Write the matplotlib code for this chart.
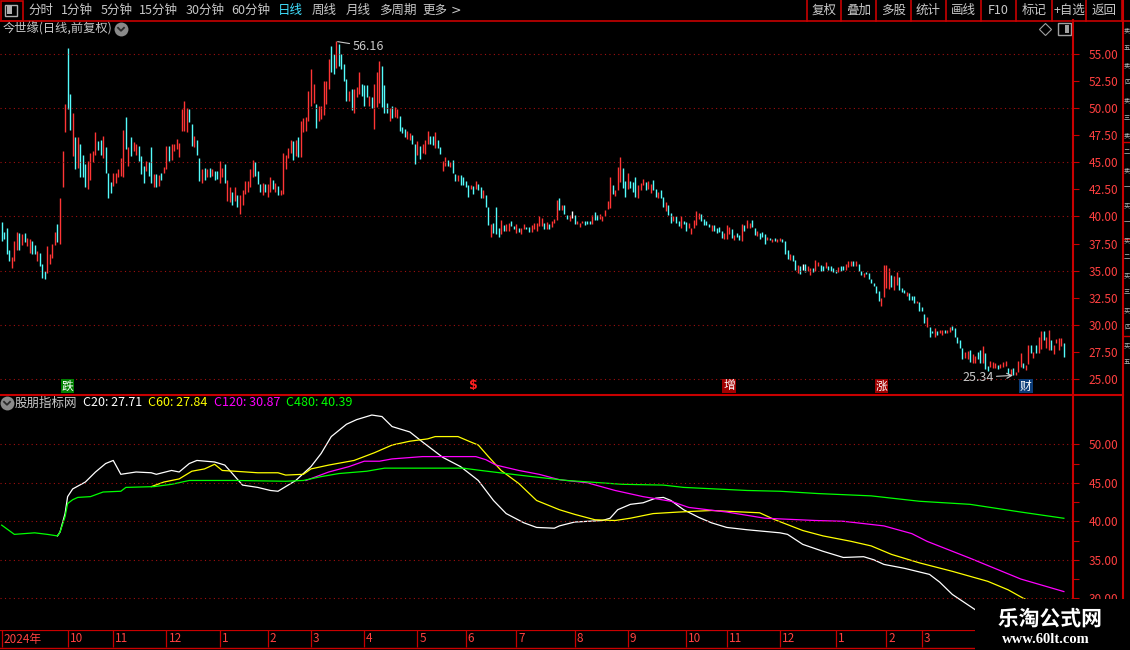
import numpy as np
import matplotlib
matplotlib.use("Agg")
import matplotlib.pyplot as plt
from matplotlib.patches import Rectangle
import matplotlib.patheffects as pe

plt.rcParams['font.family'] = ['Noto Sans CJK SC', 'DejaVu Sans']

# ---------------- 数据 ----------------
# 日线 最高 / 最低 (每根K线)
highs = [
    39.5, 38.6, 38.9, 36.9, 36.3, 37.7, 38.6, 38.5, 38.4, 38.5,
    38.0, 37.9, 37.7, 37.4, 36.8, 36.6, 35.6, 35.0, 37.3, 36.5,
    37.5, 38.6, 39.3, 41.7, 46.0, 50.4, 55.6, 51.3, 49.6, 47.3,
    47.3, 46.7, 45.7, 44.8, 45.1, 45.9, 46.0, 47.8, 47.0, 47.1,
    47.4, 46.4, 44.0, 43.2, 44.0, 44.0, 44.4, 45.4, 48.0, 49.2,
    46.4, 47.3, 46.9, 46.7, 46.5, 45.6, 44.7, 45.1, 45.0, 46.4,
    43.9, 43.9, 43.8, 44.0, 44.6, 46.5, 46.5, 46.7, 46.7, 47.2,
    46.8, 49.9, 50.7, 50.0, 49.9, 48.5, 47.4, 47.1, 45.4, 44.4,
    44.5, 44.4, 44.5, 44.4, 44.2, 44.2, 45.1, 44.5, 44.8, 43.4,
    42.7, 42.3, 42.7, 42.0, 42.0, 42.4, 43.3, 43.3, 44.4, 45.2,
    45.0, 44.2, 43.0, 43.1, 43.0, 43.0, 43.6, 43.4, 43.1, 42.8,
    42.4, 45.9, 45.7, 46.3, 47.1, 47.0, 47.1, 47.3, 48.8, 49.1,
    49.2, 51.6, 53.6, 52.2, 50.4, 50.2, 50.2, 52.5, 52.5, 54.5,
    55.7, 55.0, 56.16, 55.9, 55.0, 54.1, 52.7, 51.6, 51.8, 51.8,
    52.0, 53.3, 52.2, 52.1, 52.1, 51.1, 51.0, 52.2, 53.3, 54.4,
    53.9, 52.1, 50.5, 50.0, 50.2, 50.1, 49.9, 49.3,
    48.3, 48.1, 47.9, 47.7, 47.5, 46.7, 47.0, 46.5, 46.7, 47.1,
    47.9, 47.4, 47.4, 47.8, 47.1, 46.4, 45.1, 45.5, 45.2, 45.0,
    45.2, 43.9, 43.8, 43.8, 43.6, 43.3, 42.9, 42.9, 42.8, 43.3,
    43.0, 42.7, 42.4, 42.0, 40.9, 39.3, 39.4, 40.9, 38.9, 39.7,
    39.2, 39.3, 39.4, 39.6, 39.1, 39.3, 38.9, 38.9, 39.3, 39.0,
    39.0, 39.2, 39.4, 39.4, 40.0, 39.9, 39.4, 39.5, 39.3, 39.6,
    39.8, 41.5, 41.7, 41.1, 41.1, 40.1, 40.1, 40.5, 40.1, 39.6,
    39.4, 39.6, 39.6, 39.6, 39.6, 40.1, 40.4, 40.1, 40.2, 40.0,
    40.6, 41.4, 43.6, 42.9, 42.4, 44.6, 45.5, 44.5, 43.3, 44.0,
    43.3, 43.2, 43.6, 42.9, 43.1, 43.5, 43.2, 43.3, 43.0, 43.4,
    42.5, 42.3, 42.4, 41.8, 41.3, 41.1, 40.3, 40.0, 40.0, 39.6,
    40.0, 39.6, 39.5, 39.4, 38.9, 39.7, 40.5, 40.3, 40.2, 39.8,
    39.6, 39.3, 39.2, 39.2, 38.9, 39.0, 38.7, 38.5, 39.2, 39.0,
    38.8, 38.3, 38.5, 38.3,
    39.3, 39.2, 39.7, 39.4, 39.7, 38.9, 38.7, 38.5, 38.6, 38.4,
    38.1, 38.0, 37.9, 38.0, 37.9, 38.0, 37.9, 37.7, 36.9, 36.5,
    36.4, 36.0, 35.5, 35.4, 35.6, 35.6, 35.4, 35.2, 35.2, 36.0,
    35.8, 35.5, 35.4, 35.8, 35.4, 35.4, 35.2, 35.1, 35.3, 35.4,
    35.4, 35.6, 35.9, 35.9, 35.9, 35.9, 35.6, 35.0, 34.8, 34.9,
    34.8, 34.2, 33.9, 33.6, 33.1, 32.5, 35.5, 35.5, 35.2, 34.6,
    34.5, 34.9, 34.4, 33.4, 33.2, 33.0, 32.9, 32.7, 32.7, 32.2,
    32.1, 31.6, 31.0, 30.7, 29.8, 29.4, 29.7, 29.4, 29.5, 29.5,
    29.5, 29.5, 29.8, 29.9, 29.7, 28.9, 28.6, 27.9, 27.5, 27.6,
    27.7, 27.3, 27.1, 27.5, 27.7, 28.0, 27.4, 26.2, 26.7, 26.6,
    26.5, 26.3, 26.4, 26.6, 26.7, 26.0, 25.9, 26.0, 25.6, 26.7,
    27.4, 26.5, 26.3, 28.1, 28.1, 27.5, 28.1, 28.9, 29.4, 29.4,
    28.9, 29.5, 28.6, 28.1, 28.7, 28.8, 28.8, 28.3,
]
lows = [
    37.7, 37.9, 36.5, 35.9, 35.2, 35.9, 36.9, 36.9, 37.4, 37.6,
    37.3, 36.6, 36.5, 36.5, 35.9, 35.4, 34.3, 34.2, 34.8, 35.6,
    36.2, 37.4, 37.6, 37.5, 42.7, 47.8, 49.9, 48.0, 45.6, 44.4,
    44.5, 43.6, 43.6, 42.7, 42.5, 43.4, 45.0, 45.7, 46.1, 45.7,
    45.4, 44.0, 41.7, 42.2, 42.8, 43.1, 43.6, 43.7, 43.6, 46.2,
    44.7, 45.6, 46.0, 45.7, 45.1, 43.9, 43.1, 44.2, 43.7, 43.1,
    42.7, 42.7, 42.8, 43.4, 44.0, 44.4, 45.1, 45.2, 46.0, 46.2,
    45.5, 47.9, 47.9, 47.8, 48.7, 46.5, 46.4, 45.7, 43.3, 43.1,
    43.4, 43.6, 43.6, 43.7, 43.4, 43.5, 43.1, 43.6, 43.1, 41.4,
    41.3, 41.1, 41.4, 40.9, 40.2, 41.1, 42.1, 42.3, 42.7, 43.6,
    43.7, 43.0, 42.3, 42.0, 42.3, 41.8, 42.3, 42.5, 42.3, 42.0,
    42.0, 42.1, 44.4, 45.4, 45.9, 45.2, 45.6, 45.5, 45.5, 47.8,
    47.9, 48.8, 50.2, 50.5, 48.2, 48.8, 49.0, 49.4, 50.4, 51.8,
    53.3, 53.2, 53.7, 53.9, 53.6, 52.5, 50.7, 50.7, 49.8, 49.6,
    51.0, 51.3, 51.1, 50.2, 51.0, 50.2, 50.0, 48.1, 50.1, 50.5,
    50.1, 49.6, 49.6, 48.8, 49.1, 49.2, 49.1, 47.9,
    47.7, 47.3, 47.2, 47.1, 46.7, 44.8, 45.7, 45.3, 45.9, 45.8,
    46.7, 46.7, 46.6, 46.3, 46.3, 45.8, 44.2, 44.7, 44.7, 44.6,
    44.0, 43.3, 43.3, 42.9, 42.9, 42.7, 41.8, 42.5, 42.1, 42.5,
    42.4, 41.7, 41.7, 40.9, 39.2, 38.1, 38.5, 38.4, 38.1, 38.4,
    38.7, 38.7, 38.7, 39.1, 38.8, 38.5, 38.6, 38.4, 38.8, 38.8,
    38.6, 38.6, 38.8, 38.7, 39.1, 39.1, 38.8, 38.8, 38.8, 39.0,
    39.4, 39.7, 40.6, 40.6, 40.2, 39.8, 39.6, 39.9, 39.3, 39.3,
    39.0, 39.4, 39.2, 39.3, 39.3, 39.3, 39.7, 39.7, 39.8, 39.6,
    40.0, 40.7, 40.8, 42.1, 41.9, 42.4, 43.2, 42.6, 41.8, 42.5,
    42.6, 42.3, 41.8, 41.7, 42.4, 42.9, 42.4, 42.5, 42.2, 42.4,
    41.8, 41.7, 41.7, 40.9, 40.5, 40.1, 39.4, 39.6, 39.4, 39.1,
    38.9, 39.3, 38.7, 38.9, 38.4, 38.9, 39.2, 39.8, 39.6, 39.2,
    39.2, 39.0, 38.7, 38.7, 38.5, 38.6, 38.0, 37.9, 37.9, 38.4,
    38.0, 37.8, 38.1, 37.8,
    37.7, 38.7, 38.9, 38.9, 39.0, 38.3, 38.2, 37.9, 38.1, 37.5,
    37.8, 37.8, 37.6, 37.7, 37.6, 37.7, 37.6, 36.5, 36.1, 36.0,
    35.9, 35.1, 34.8, 34.7, 35.1, 34.9, 35.0, 34.6, 34.9, 35.0,
    35.4, 35.0, 35.0, 35.2, 35.1, 35.0, 34.9, 34.8, 34.9, 35.0,
    35.1, 35.1, 35.3, 35.4, 35.4, 35.4, 35.0, 34.6, 34.4, 34.7,
    34.2, 33.9, 33.6, 32.9, 32.2, 31.7, 32.6, 33.4, 33.3, 33.5,
    33.2, 33.7, 33.2, 33.0, 32.9, 32.7, 32.3, 32.3, 32.0, 32.0,
    31.3, 31.3, 30.2, 29.8, 28.9, 29.2, 28.9, 29.1, 29.2, 29.1,
    29.2, 29.2, 29.3, 29.5, 28.9, 28.3, 27.9, 26.8, 26.9, 26.8,
    26.6, 26.5, 26.5, 26.8, 26.5, 26.5, 25.9, 25.7, 26.1, 26.0,
    26.0, 25.9, 26.0, 26.1, 26.2, 25.5, 25.4, 25.4, 25.34, 25.6,
    26.1, 26.0, 25.8, 26.4, 27.4, 26.9, 27.4, 27.4, 27.8, 28.6,
    27.9, 27.7, 27.7, 27.3, 28.3, 27.7, 28.0, 27.0,
]
# r=阳线 c=阴线 w=十字
bar_colors = (
    "ccccrrrcrc" "rrccrcccrr" "rrcrrrccrc" "rcccrrrrcc" "rcccrrrrrc"
    "rcrrcccrcc" "rcrcrrcrrr" "rrrrccrccr" "crcrccrrcr" "rcrcrrrrrr"
    "cccrcrrcrc" "rrrrrcrcrr" "rrrrcrrrrr" "ccrccccrcr" "rrcccrcrrr"
    "cccrcrrc"
    "ccrrccrcrr" "rccrccrrcr" "ccrccccrcr" "ccrccrcccr" "crrccrcrrc"
    "crrrrrcrcr" "rrcrccrwcr" "rrcccrccrr" "rrrcrrrccr" "cccrrrcrrc"
    "crccrccrcc" "rccrrrrrcc" "ccrccccrrr" "crcc"
    "rcrrccrccc" "rcrcrrcccr" "ccrcwcrrcr" "rccrccccrc" "crrrcrccrc"
    "cccccrrrrc" "rrcccrcccr" "cccrccrcrr" "crrcccccrr" "crrccrccrr"
    "rcrrrcrcrr" "rcrrcrcrrc" "rrcrrrrc"
)

# 副图指标 (K线序号, 数值)
c20_idx = [22, 23, 25, 26, 28, 33, 37, 41, 44, 45, 47, 53, 59, 61, 67, 70, 74, 77, 84, 88,
           91, 95, 101, 106, 109, 112, 116, 122, 126, 130, 136, 140, 146, 150, 154, 161, 166, 174, 181, 188,
           194, 199, 206, 211, 218, 220, 226, 237, 240, 243, 248, 253, 258, 261, 264, 269, 275, 280, 286, 294,
           307, 310, 316, 324, 332, 340, 344, 348, 356, 366, 370, 375, 385, 395, 405, 412, 419]
c20_val = [38.1, 38.6, 41.0, 43.2, 44.2, 45.1, 46.4, 47.5, 47.9, 47.3, 46.1, 46.4, 46.3, 46.1, 46.6, 46.4, 47.5, 47.9, 47.7, 47.3,
           46.2, 44.7, 44.4, 44.0, 43.9, 44.5, 45.3, 47.1, 48.8, 51.0, 52.6, 53.2, 53.8, 53.6, 52.3, 51.6, 50.3, 48.3, 47.1, 45.3,
           42.7, 41.0, 39.8, 39.2, 39.1, 39.4, 39.9, 40.1, 40.4, 41.5, 42.2, 42.4, 43.0, 43.1, 42.7, 41.5, 40.5, 39.8, 39.2, 38.9,
           38.5, 38.3, 37.0, 36.1, 35.3, 35.4, 35.0, 34.4, 33.9, 33.1, 32.1, 30.5, 28.3, 26.9, 26.6, 27.2, 27.71]

c60_idx = [59, 64, 70, 75, 80, 84, 87, 92, 101, 109, 112, 119, 122, 129, 139, 147, 154, 161, 168, 171,
           180, 185, 188, 192, 197, 204, 211, 220, 226, 234, 242, 248, 257, 267, 280, 299, 305, 316, 324, 335,
           343, 351, 362, 375, 389, 397, 403, 411, 419]
c60_val = [44.5, 45.1, 45.5, 46.5, 46.8, 47.4, 46.6, 46.5, 46.3, 46.3, 46.0, 46.1, 46.8, 47.3, 47.9, 48.9, 49.9, 50.4, 50.7, 51.0,
           51.0, 50.3, 49.9, 48.4, 46.6, 44.9, 42.7, 41.5, 40.9, 40.2, 40.1, 40.4, 41.0, 41.2, 41.4, 41.1, 40.2, 38.8, 38.1, 37.4,
           36.8, 35.7, 34.6, 33.5, 32.2, 31.1, 30.0, 28.8, 27.84]

c120_idx = [120, 129, 137, 143, 149, 154, 166, 187, 191, 195, 204, 212, 220, 231, 242, 253, 264, 271, 286, 301,
            321, 332, 348, 359, 365, 382, 402, 419]
c120_val = [45.3, 46.4, 47.1, 47.8, 47.8, 48.1, 48.4, 48.4, 48.0, 47.3, 46.6, 46.1, 45.4, 45.0, 44.0, 43.2, 42.6, 41.8, 41.2, 40.4,
            40.1, 40.0, 39.4, 38.4, 37.4, 35.2, 32.5, 30.87]

c480_idx = [0, 5, 13, 18, 22, 23, 25, 26, 28, 30, 35, 40, 47, 49, 60, 67, 74, 92, 112, 119,
            126, 133, 144, 151, 182, 189, 204, 212, 223, 245, 261, 269, 294, 307, 322, 343, 362, 382, 402, 419]
c480_val = [39.5, 38.3, 38.5, 38.3, 38.1, 38.6, 40.6, 42.3, 42.8, 43.1, 43.2, 43.8, 43.9, 44.4, 44.5, 44.8, 45.3, 45.3, 45.2, 45.3,
            45.8, 46.2, 46.5, 46.9, 46.9, 46.6, 46.0, 45.7, 45.3, 44.8, 44.7, 44.4, 44.0, 43.9, 43.6, 43.3, 42.6, 42.2, 41.2, 40.39]

# 月份刻度 (K线序号)
month_idx = [0, 26, 44, 65, 86, 105, 122, 143, 164, 183, 203, 226, 247, 270, 286, 307, 329, 349, 363]
month_labels = ["2024年", "10", "11", "12", "1", "2", "3", "4", "5", "6", "7", "8", "9",
                "10", "11", "12", "1", "2", "3"]

# 信号标记
sig_idx = [26, 186, 287, 347, 404]
sig_text = ["跌", "$", "增", "涨", "财"]
sig_bg = ["#007f00", None, "#a00000", "#a00000", "#0b3c78"]

# ---------------- 画图 ----------------
W, H = 1130, 650
RED = "#c80000"
LBL = "#ff4040"
GREY = "#c8c8c8"


def fr(x0, y0, x1, y1):
    return [x0 / W, 1 - y1 / H, (x1 - x0) / W, (y1 - y0) / H]


fig = plt.figure(figsize=(W / 100, H / 100), dpi=100, facecolor="black")

ax = fig.add_axes(fr(0, 20, 1073, 395))
ax2 = fig.add_axes(fr(0, 395, 1073, 630), sharex=ax)
axd = fig.add_axes(fr(0, 630, 1073, 648), sharex=ax)

for a in (ax, ax2, axd):
    a.set_facecolor("black")
    for s in a.spines.values():
        s.set_visible(False)

n = min(len(highs), len(lows), len(bar_colors))
idx = np.arange(n)
cmap = {"r": "#ff3535", "c": "#54fcfc", "w": "#ffffff"}
cols = [cmap[ch] for ch in bar_colors[:n]]
ax.vlines(idx, lows[:n], highs[:n], colors=cols, linewidth=1.0)

ax.set_xlim(-0.67, 422.6)
ax.set_ylim(23.52, 58.14)
for v in range(25, 60, 5):
    ax.axhline(v, color="#a01010", lw=0.8, ls=(0, (1, 3)))
ax.yaxis.tick_right()
ax.set_yticks(np.arange(25, 55.1, 2.5))
ax.set_yticklabels(["%.2f" % v for v in np.arange(25, 55.1, 2.5)])
ax.tick_params(axis="y", colors=RED, labelcolor=LBL, length=4, width=0.8, pad=7, labelsize=8.5)
ax.tick_params(axis="x", bottom=False, labelbottom=False)

# 最高 / 最低 标注
imax = int(np.argmax(highs[:n]))
imin = int(np.argmin(lows[:n]))
ax.annotate("%.2f" % highs[imax], xy=(imax, highs[imax]), xytext=(16, -5), textcoords="offset pixels",
            color=GREY, fontsize=9, ha="left", va="center",
            arrowprops=dict(arrowstyle="-", color=GREY, lw=0.8, shrinkA=0, shrinkB=1))
ax.annotate("%.2f" % lows[imin], xy=(imin, lows[imin]), xytext=(-22, -2), textcoords="offset pixels",
            color=GREY, fontsize=9, ha="right", va="center",
            arrowprops=dict(arrowstyle="->", color=GREY, lw=0.8, shrinkA=0, shrinkB=2))

# 信号
for i, t, bg in zip(sig_idx, sig_text, sig_bg):
    if bg is None:
        ax.text(i, 0.024, t, transform=ax.get_xaxis_transform(), ha="center", va="center",
                color="#ff2020", fontsize=9, fontweight="bold", family=["DejaVu Sans"])
    else:
        ax.text(i, 0.024, t, transform=ax.get_xaxis_transform(), ha="center", va="center",
                color="white", fontsize=8.5,
                bbox=dict(boxstyle="square,pad=0.08", fc=bg, ec="none"))

# 副图
ax2.plot(c20_idx, c20_val, color="#ffffff", lw=0.9)
ax2.plot(c60_idx, c60_val, color="#ffff00", lw=0.9)
ax2.plot(c120_idx, c120_val, color="#ff00ff", lw=0.9)
ax2.plot(c480_idx, c480_val, color="#00ff00", lw=0.9)
ax2.set_ylim(25.88, 56.4)
for v in range(30, 55, 5):
    ax2.axhline(v, color="#a01010", lw=0.8, ls=(0, (1, 3)))
ax2.yaxis.tick_right()
ax2.set_yticks([30, 35, 40, 45, 50])
ax2.set_yticklabels(["%.2f" % v for v in [30, 35, 40, 45, 50]])
ax2.set_yticks([32.5, 37.5, 42.5, 47.5], minor=True)
ax2.tick_params(axis="y", which="both", colors=RED, labelcolor=LBL, length=4, width=0.8, pad=7, labelsize=8.5)
ax2.tick_params(axis="x", which="both", bottom=False, labelbottom=False)

# 时间轴
axd.set_ylim(0, 1)
axd.axhline(1, color=RED, lw=1.6)
axd.vlines(month_idx, 0.05, 1, color=RED, lw=0.9)
for i, lb in zip(month_idx, month_labels):
    axd.annotate(lb, (i, 0.5), xytext=(2, 0), textcoords="offset pixels", color=LBL,
                 fontsize=8.5, ha="left", va="center")
axd.tick_params(axis="both", which="both", left=False, right=False, bottom=False,
                labelleft=False, labelbottom=False)

# ---------------- 外框、工具栏 (像素坐标) ----------------
ov = fig.add_axes([0, 0, 1, 1])
ov.set_xlim(0, W)
ov.set_ylim(H, 0)
ov.axis("off")
ov.patch.set_alpha(0)

ov.plot([0, W], [20.5, 20.5], color=RED, lw=1.2)
ov.add_patch(Rectangle((0.5, 0.5), 22.5, 20, fc="none", ec=RED, lw=1.2))
ov.add_patch(Rectangle((5, 4.5), 12, 11, fc="none", ec="#b0b0b0", lw=1))
ov.add_patch(Rectangle((6.5, 6), 5, 8, fc="#b0b0b0", ec="none"))

left_btns = [("分时", 28), ("1分钟", 61), ("5分钟", 100.5), ("15分钟", 139), ("30分钟", 186),
             ("60分钟", 231), ("日线", 278), ("周线", 312), ("月线", 346), ("多周期", 379), ("更多", 422.5)]
for t, x in left_btns:
    ov.text(x, 10.5, t, color="#40e0ff" if t == "日线" else GREY, fontsize=9, va="center", ha="left")
ov.text(451, 10.5, ">", color=GREY, fontsize=9, va="center", ha="left", family=["DejaVu Sans"])

seps = [807, 841, 876, 911, 946, 981, 1016, 1052, 1086, 1122]
right_btns = ["复权", "叠加", "多股", "统计", "画线", "F10", "标记", "+自选", "返回"]
for x in seps:
    ov.plot([x, x], [0, 20.5], color=RED, lw=1.2)
for k, t in enumerate(right_btns):
    ov.text((seps[k] + seps[k + 1]) / 2, 10.5, t, color=GREY, fontsize=9, va="center", ha="center")

# 标题
ov.text(3, 29, "今世缘(日线,前复权)", color=GREY, fontsize=8.8, va="center", ha="left")
for cx, cy in [(121, 29), (7, 403)]:
    ov.plot(cx, cy, "o", ms=10, color="#8a8a8a", mec="none")
    ov.plot([cx - 3, cx, cx + 3], [cy - 1.2, cy + 1.8, cy - 1.2], color="#2a2a2a", lw=1.3)
ov.plot(1045, 29, marker="D", ms=6, mfc="none", mec="#a0a0a0", mew=0.8)
ov.add_patch(Rectangle((1058, 23), 13, 12, fc="none", ec="#a0a0a0", lw=1))
ov.add_patch(Rectangle((1065, 25), 4, 8, fc="#a0a0a0", ec="none"))

# 副图标题
ov.text(15, 403, "股朋指标网", color=GREY, fontsize=9, va="center", ha="left")
ov.text(83, 403, "C20: %.2f" % c20_val[-1], color="#ffffff", fontsize=9, va="center", ha="left")
ov.text(148, 403, "C60: %.2f" % c60_val[-1], color="#ffff00", fontsize=9, va="center", ha="left")
ov.text(214, 403, "C120: %.2f" % c120_val[-1], color="#ff00ff", fontsize=9, va="center", ha="left")
ov.text(286, 403, "C480: %.2f" % c480_val[-1], color="#00ff00", fontsize=9, va="center", ha="left")

# 分隔线
ov.plot([0, 1123], [395, 395], color=RED, lw=1.5)
ov.plot([1073, 1073], [20, 630], color=RED, lw=1.5)
ov.plot([1123, 1123], [0, 650], color=RED, lw=1.5)
ov.plot([0, W], [647.5, 647.5], color=RED, lw=1)
for y in [142, 239, 336]:
    ov.plot([1123, W], [y, y], color=RED, lw=1)
side = "卖五卖四卖三卖二卖一买一买二买三买四买五"
for k, ch in enumerate(side):
    ov.text(1124, 30 + k * 17.5, ch, color="#b8b8b8", fontsize=4.5, va="center", ha="left")

# 水印
ov.add_patch(Rectangle((975, 599), 155, 51, fc="black", ec="none", zorder=5))
ov.text(1050, 619, "乐淘公式网", color="white", fontsize=15, fontweight="bold", ha="center", va="center",
        zorder=6, path_effects=[pe.withStroke(linewidth=2, foreground="black")])
ov.text(1046, 639.5, "www.60lt.com", color="white", fontsize=10.5, fontweight="bold", ha="center", va="center",
        family=["Liberation Serif", "DejaVu Serif"], zorder=6)

fig.savefig("out.png", dpi=100, facecolor="black")
